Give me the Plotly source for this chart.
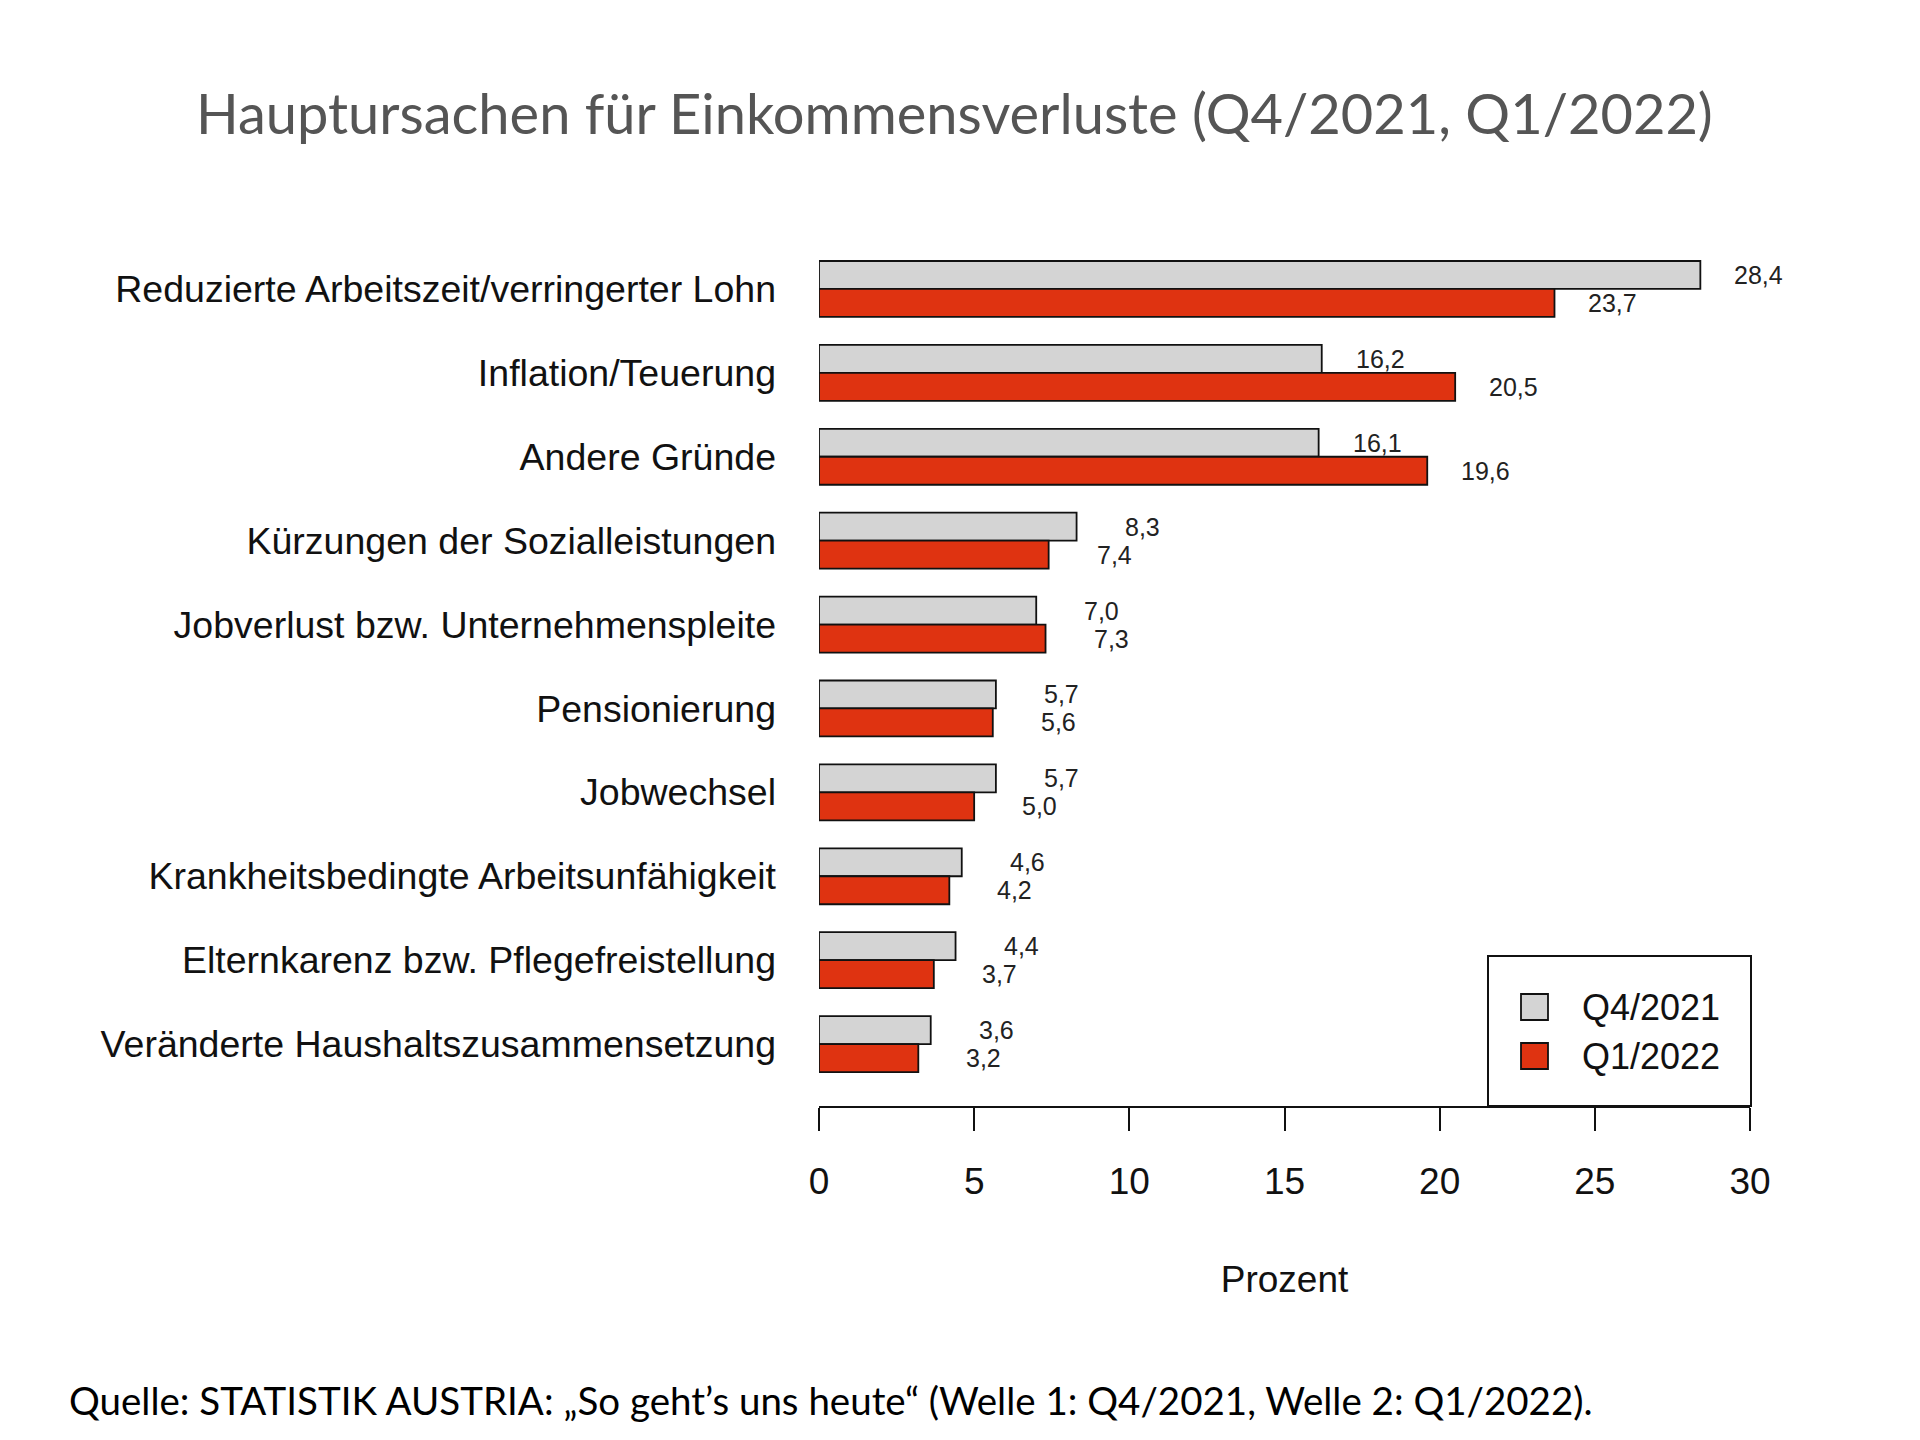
import plotly.graph_objects as go

categories = [
    "Reduzierte Arbeitszeit/verringerter Lohn",
    "Inflation/Teuerung",
    "Andere Gründe",
    "Kürzungen der Sozialleistungen",
    "Jobverlust bzw. Unternehmenspleite",
    "Pensionierung",
    "Jobwechsel",
    "Krankheitsbedingte Arbeitsunfähigkeit",
    "Elternkarenz bzw. Pflegefreistellung",
    "Veränderte Haushaltszusammensetzung",
]
q4_2021 = [28.4, 16.2, 16.1, 8.3, 7.0, 5.7, 5.7, 4.6, 4.4, 3.6]
q1_2022 = [23.7, 20.5, 19.6, 7.4, 7.3, 5.6, 5.0, 4.2, 3.7, 3.2]
series_names = ["Q4/2021", "Q1/2022"]
x_ticks = [0, 5, 10, 15, 20, 25, 30]

GREY = "#D4D4D4"
RED = "#DF3311"
W, H = 1920, 1440
L, R, T, B = 819, 170, 247, 334
BAR_H = 1 / 3
LABEL_SHIFT_PX = 85

pos = list(range(len(categories)))


def fmt(v):
    return f"{v:.1f}".replace(".", ",")


def px_x(px):
    return (px - L) / (W - L - R)


def px_y(py):
    return (H - B - py) / (H - T - B)


fig = go.Figure()
fig.add_trace(go.Bar(
    y=pos, x=q4_2021, orientation="h", name=series_names[0],
    offset=-BAR_H, width=BAR_H,
    marker=dict(color=GREY, line=dict(color="#111111", width=1.8)),
    showlegend=False, hoverinfo="skip"))
fig.add_trace(go.Bar(
    y=pos, x=q1_2022, orientation="h", name=series_names[1],
    offset=0, width=BAR_H,
    marker=dict(color=RED, line=dict(color="#111111", width=1.8)),
    showlegend=False, hoverinfo="skip"))

# value labels (right-aligned a fixed distance past each bar end)
for vals, sign in [(q4_2021, -1), (q1_2022, 1)]:
    for p, v in zip(pos, vals):
        fig.add_annotation(
            x=v, y=p + sign * BAR_H / 2, xref="x", yref="y",
            xshift=LABEL_SHIFT_PX,
            text=fmt(v), showarrow=False, xanchor="right", yanchor="middle",
            font=dict(family="Liberation Sans, Arial", size=25, color="#222222"))

fig.update_layout(
    width=W, height=H,
    margin=dict(l=L, r=R, t=T, b=B),
    paper_bgcolor="white", plot_bgcolor="white",
    barmode="overlay",
    font=dict(family="Liberation Sans, Arial", size=37, color="#111111"),
    xaxis=dict(
        range=[0, 30], tickvals=x_ticks, ticks="outside", ticklen=23,
        tickwidth=2, tickcolor="#111111", showline=True, linewidth=2,
        linecolor="#111111", showgrid=False, zeroline=False,
        ticklabelstandoff=19,
        tickfont=dict(size=37, color="#111111"),
        title=dict(text="Prozent", font=dict(size=37, color="#111111"), standoff=65),
    ),
    yaxis=dict(
        range=[len(categories) - 0.5 + 0.238, -0.5],
        tickvals=pos, ticktext=categories, ticks="", showline=False,
        showgrid=False, zeroline=False, ticklabelstandoff=42,
        tickfont=dict(size=37.5, color="#111111"),
    ),
)

# Title and source
fig.add_annotation(
    text="Hauptursachen für Einkommensverluste (Q4/2021, Q1/2022)",
    xref="paper", yref="paper", x=px_x(954), y=px_y(113),
    xanchor="center", yanchor="middle", showarrow=False,
    font=dict(family="Lato", size=56, color="#555555"))
fig.add_annotation(
    text="Quelle: STATISTIK AUSTRIA: „So geht’s uns heute“ (Welle 1: Q4/2021, Welle 2: Q1/2022).",
    xref="paper", yref="paper", x=px_x(67), y=px_y(1400),
    xanchor="left", yanchor="middle", showarrow=False,
    font=dict(family="Lato", size=38.5, color="#000000"))

# Manual legend box
fig.add_shape(type="rect", xref="paper", yref="paper",
              x0=px_x(1488), x1=px_x(1751), y0=px_y(1106), y1=px_y(956),
              line=dict(color="#111111", width=2), fillcolor="white", layer="below")
for i, (name, col) in enumerate(zip(series_names, [GREY, RED])):
    cy = 1007 + i * 49
    fig.add_shape(type="rect", xref="paper", yref="paper",
                  x0=px_x(1521), x1=px_x(1548), y0=px_y(cy + 13), y1=px_y(cy - 13),
                  line=dict(color="#111111", width=1.8), fillcolor=col)
    fig.add_annotation(text=name, xref="paper", yref="paper",
                       x=px_x(1580), y=px_y(cy), xanchor="left", yanchor="middle",
                       showarrow=False, font=dict(size=36, color="#111111"))

fig.write_html("out.html")
